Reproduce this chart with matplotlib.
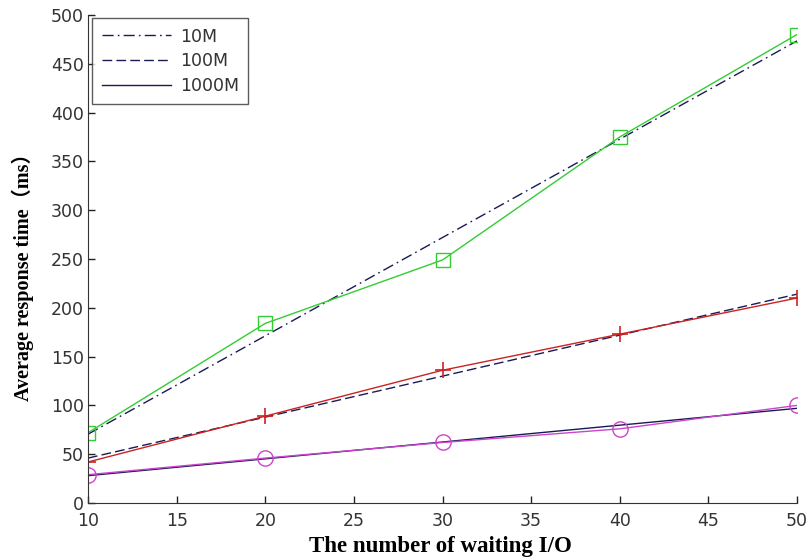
import matplotlib
matplotlib.use("Agg")
import matplotlib.pyplot as plt

# data
x_io = [10, 20, 30, 40, 50]
y_10M = [72, 184, 249, 375, 480]
y_100M = [42, 89, 136, 173, 210]
y_1000M = [29, 46, 62, 76, 100]

# fitted lines (end values)
x_fit = [10, 50]
fit_10M = [70.5, 473.5]
fit_100M = [46, 214]
fit_1000M = [28, 97]

legend_labels = ["10M", "100M", "1000M"]
x_ticks = [10, 15, 20, 25, 30, 35, 40, 45, 50]
y_ticks = [0, 50, 100, 150, 200, 250, 300, 350, 400, 450, 500]

fig = plt.figure(figsize=(8.08, 5.57), dpi=100)
ax = fig.add_axes([88/808, 1-503/557, (797-88)/808, (503-15)/557])

navy = "#1a1a55"
l1, = ax.plot(x_fit, fit_10M, color=navy, lw=1.0, dashes=(8, 3, 1.2, 3))
l2, = ax.plot(x_fit, fit_100M, color=navy, lw=1.0, dashes=(7, 3))
l3, = ax.plot(x_fit, fit_1000M, color=navy, lw=1.0)

ax.plot(x_io, y_10M, color="#33cc33", lw=1.0, marker="s", ms=10,
        mfc="none", mec="#33cc33", mew=1.0)
ax.plot(x_io, y_100M, color="#cc2222", lw=1.0, marker="+", ms=12,
        mec="#cc2222", mew=1.2)
ax.plot(x_io, y_1000M, color="#cc44cc", lw=1.0, marker="o", ms=11,
        mfc="none", mec="#cc44cc", mew=1.0)

ax.set_xlim(10, 50)
ax.set_ylim(0, 500)
ax.set_xticks(x_ticks)
ax.set_yticks(y_ticks)
ax.tick_params(direction="in", length=5, width=1, labelsize=12.5,
               colors="#222222", pad=3)
ax.tick_params(axis="x", pad=6.5)
for lab in ax.get_xticklabels() + ax.get_yticklabels():
    lab.set_color("#333333")
    lab.set_family("DejaVu Sans")
ax.spines["top"].set_visible(False)
ax.spines["right"].set_visible(False)
ax.spines["left"].set_color("#333333")
ax.spines["bottom"].set_color("#333333")
ax.patch.set_alpha(0)

serif = ["Liberation Serif", "Noto Sans CJK SC"]
ax.set_xlabel("The number of waiting I/O", family=serif,
              fontweight="bold", fontsize=16.5)
ax.set_ylabel("Average response time\uff08ms\uff09", family=serif,
              fontweight="bold", fontsize=14.5)
ax.xaxis.set_label_coords(0.497, -0.068)
ax.yaxis.set_label_coords(-0.076, 1 - (272 - 15) / 488)

leg = ax.legend([l1, l2, l3], legend_labels, loc="upper left",
                bbox_to_anchor=(4/709, 1 - 3/488), fontsize=12.5,
                handlelength=4.0, frameon=True, fancybox=False,
                edgecolor="#333333", borderpad=0.55, labelspacing=0.38,
                handletextpad=0.5, borderaxespad=0)
leg.get_frame().set_linewidth(1.0)
for t in leg.get_texts():
    t.set_color("#333333")
    t.set_family("DejaVu Sans")

fig.savefig("out.png", dpi=100)
